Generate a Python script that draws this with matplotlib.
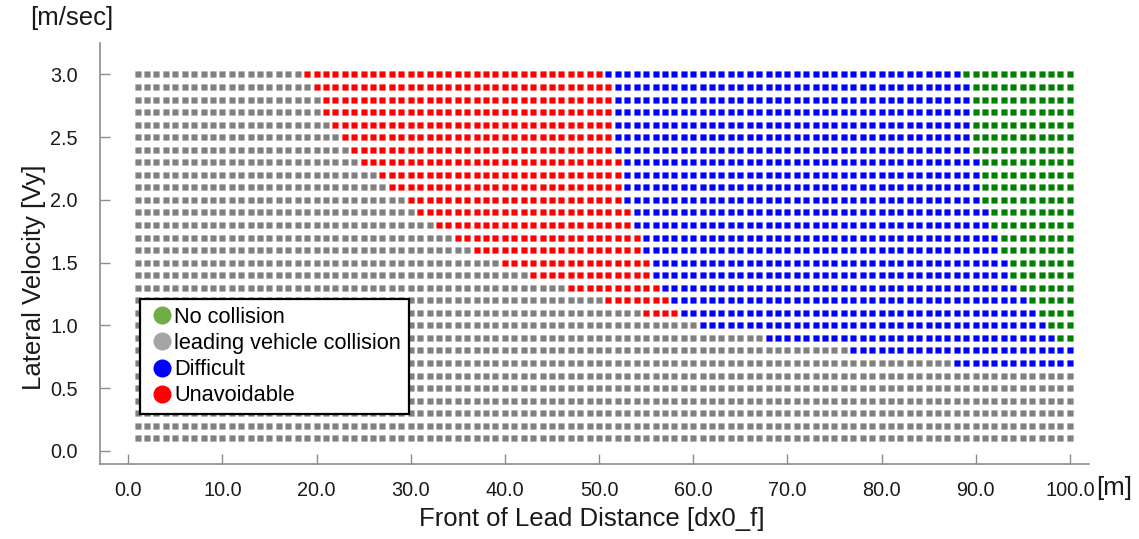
import matplotlib
matplotlib.use("Agg")
import matplotlib.pyplot as plt
from matplotlib.lines import Line2D
import numpy as np

plt.rcParams['font.family'] = ['Liberation Sans', 'DejaVu Sans']

# Data : one row per lateral velocity, first column index of each category
vy = [3.0, 2.9, 2.8, 2.7, 2.6, 2.5, 2.4, 2.3, 2.2, 2.1,
      2.0, 1.9, 1.8, 1.7, 1.6, 1.5, 1.4, 1.3, 1.2, 1.1,
      1.0, 0.9, 0.8, 0.7, 0.6, 0.5, 0.4, 0.3, 0.2, 0.1]
dx = list(range(1, 101))
# 0 = no start (category absent in that row)
red_start = [19, 20, 21, 21, 22, 23, 24, 25, 27, 28,
             30, 31, 33, 35, 37, 40, 43, 47, 51, 55,
             0, 0, 0, 0, 0, 0, 0, 0, 0, 0]
blue_start = [51, 52, 52, 52, 52, 52, 52, 53, 53, 53,
              53, 54, 54, 55, 55, 56, 56, 57, 58, 59,
              61, 68, 77, 88, 0, 0, 0, 0, 0, 0]
green_start = [89, 90, 90, 90, 90, 90, 90, 91, 91, 91,
               91, 92, 92, 93, 93, 94, 94, 95, 96, 97,
               98, 99, 0, 0, 0, 0, 0, 0, 0, 0]

categories = ["No collision", "leading vehicle collision", "Difficult", "Unavoidable"]
cell_colors = {"No collision": "#008000", "leading vehicle collision": "#808080",
               "Difficult": "#0000ff", "Unavoidable": "#ff0000"}
legend_colors = {"No collision": "#70ad47", "leading vehicle collision": "#a5a5a5",
                 "Difficult": "#0000ff", "Unavoidable": "#ff0000"}

#%% Classification des cellules
points = {c: ([], []) for c in categories}
for v, r0, b0, g0 in zip(vy, red_start, blue_start, green_start):
    for x in dx:
        if g0 and x >= g0:
            cat = "No collision"
        elif b0 and x >= b0:
            cat = "Difficult"
        elif r0 and x >= r0:
            cat = "Unavoidable"
        else:
            cat = "leading vehicle collision"
        points[cat][0].append(x)
        points[cat][1].append(v)

#%% Figure
fig = plt.figure(figsize=(11.39, 5.39), dpi=100)
ax = fig.add_axes([0.0878, 0.139, 0.868, 0.781])

rect = [(-0.6, -0.5), (0.6, -0.5), (0.6, 0.5), (-0.6, 0.5), (-0.6, -0.5)]
for cat in ["leading vehicle collision", "Unavoidable", "Difficult", "No collision"]:
    xs, ys = points[cat]
    col = matplotlib.colors.to_rgba(cell_colors[cat])
    edge = (col[0], col[1], col[2], 0.3)
    ax.scatter(xs, ys, marker=rect, s=24, c=[col], edgecolors=[edge], linewidths=0.4)

ax.set_xlim(-3, 102)
ax.set_ylim(-0.106, 3.25)
ax.set_xticks(np.arange(0, 101, 10))
ax.set_xticklabels([f"{t:.1f}" for t in np.arange(0, 101, 10)])
ax.set_yticks(np.arange(0, 3.01, 0.5))
ax.set_yticklabels([f"{t:.1f}" for t in np.arange(0, 3.01, 0.5)])

for s in ["top", "right"]:
    ax.spines[s].set_visible(False)
for s in ["left", "bottom"]:
    ax.spines[s].set_color("#8c8c8c")
    ax.spines[s].set_linewidth(1.2)
ax.tick_params(axis="both", direction="in", length=7, width=1, color="#8c8c8c",
               labelsize=14.3, labelcolor="#1a1a1a")
ax.tick_params(axis="y", pad=16)
ax.tick_params(axis="x", pad=12)

ax.set_xlabel("Front of Lead Distance [dx0_f]", fontsize=18.5, color="#1a1a1a")
ax.xaxis.set_label_coords(0.497, -0.101)
ax.set_ylabel("Lateral Velocity [Vy]", fontsize=18.5, color="#1a1a1a")
ax.yaxis.set_label_coords(-0.055, 0.444)

fig.text(0.063, 0.967, "[m/sec]", fontsize=18.5, ha="center", va="center", color="#1a1a1a")
fig.text(0.962, 0.094, "[m]", fontsize=18.5, ha="left", va="center", color="#1a1a1a")

handles = [Line2D([0], [0], marker="o", linestyle="none", markersize=13,
                  markerfacecolor=legend_colors[c], markeredgecolor="none", label=c)
           for c in categories]
leg = ax.legend(handles=handles, loc="upper left", bbox_to_anchor=(0.0404, 0.392),
                borderaxespad=0, fontsize=15.7, handlelength=1.35, handletextpad=-0.12,
                labelspacing=0.24, borderpad=0.35, fancybox=False, framealpha=1)
leg.get_frame().set_edgecolor("black")
leg.get_frame().set_linewidth(1.6)

fig.savefig("out.png", dpi=100)
